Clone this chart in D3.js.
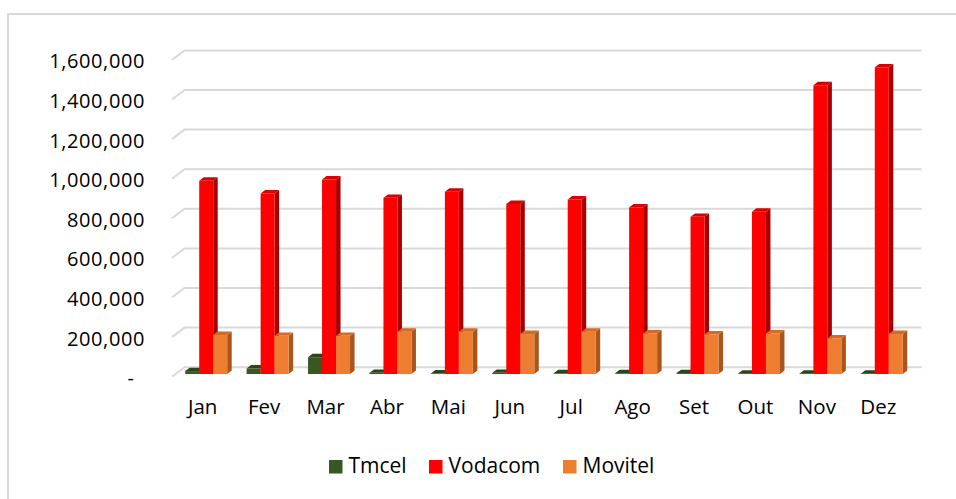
<!DOCTYPE html>
<html><head><meta charset="utf-8">
<script src="https://cdn.jsdelivr.net/npm/d3@7"></script>
<style>html,body{margin:0;padding:0;background:#fff;}svg{display:block;}</style>
</head><body>
<svg id="c" width="956" height="499"></svg>
<script>
const months = ["Jan","Fev","Mar","Abr","Mai","Jun","Jul","Ago","Set","Out","Nov","Dez"];
const seriesNames = ["Tmcel","Vodacom","Movitel"];
const tmcel   = [15000, 28000, 85000, 6000, 3000, 6000, 4000, 4000, 5000, 2000, 2000, 2000];
const vodacom = [976000, 912000, 983000, 890000, 921000, 859000, 882000, 842000, 794000, 820000, 1459000, 1549000];
const movitel = [197000, 193000, 193000, 214000, 214000, 202000, 214000, 205000, 200000, 205000, 180000, 202000];
const yTicks  = [0, 200000, 400000, 600000, 800000, 1000000, 1200000, 1400000, 1600000];

const seriesData = [tmcel, vodacom, movitel];
const faceColors = [
  {front:"#385723", top:"#2c461b", side:"#22380f"},
  {front:"#ff0000", top:"#d80000", side:"#a80000"},
  {front:"#ed7d31", top:"#d46a24", side:"#a9561d"}
];

const svg = d3.select("#c");
const floorX0 = 172, floorX1 = 909, floorY0 = 376.7;
const DX = 12.5, DY = -9.5;
const h = d3.scaleLinear().domain([0, 1600000]).range([0, 316.8]);
const x0 = d3.scaleBand().domain(months).range([floorX0, floorX1]).padding(0);
const groupW = 42;
const x1 = d3.scaleBand().domain(seriesNames).range([0, groupW]).padding(0);
const f0 = 0.28, f1 = 0.64;

function P(x, f, v) { return [x + f * DX, floorY0 + f * DY - h(v)]; }
const pathOf = pts => "M" + pts.map(p => p[0].toFixed(2) + "," + p[1].toFixed(2)).join("L") + "Z";

// chart borders
svg.append("line").attr("x1", 8).attr("y1", 14).attr("x2", 956).attr("y2", 14).attr("stroke", "#d9d9d9").attr("stroke-width", 2);
svg.append("line").attr("x1", 8).attr("y1", 13).attr("x2", 8).attr("y2", 499).attr("stroke", "#d9d9d9").attr("stroke-width", 2);

// gridlines
const grid = svg.append("g").attr("fill", "none").attr("stroke", "#d9d9d9").attr("stroke-width", 2);
yTicks.forEach(v => {
  const a = P(floorX0, 0, v), b = P(floorX0, 1, v), c = P(floorX1, 1, v);
  grid.append("path").attr("d", "M" + a + "L" + b + "L" + c);
});

// y axis labels
const fmt = d3.format(",");
svg.append("g").selectAll("text").data(yTicks).join("text")
  .attr("x", d => d === 0 ? 134 : 145)
  .attr("y", d => P(floorX0, 0, d)[1] + 8.5)
  .attr("text-anchor", "end")
  .attr("font-family", "'Open Sans', sans-serif")
  .attr("font-size", 20)
  .attr("letter-spacing", d => d === 0 ? 0 : 0.6)
  .attr("fill", "#000")
  .text(d => d === 0 ? "-" : fmt(d));

// bars
const step = x0.step();
const bars = svg.append("g");
months.forEach((m, i) => {
  seriesNames.forEach((s, j) => {
    const v = seriesData[j][i];
    const xl = x0(m) + (step - groupW) / 2 + x1(s);
    const w = x1.bandwidth();
    const A = P(xl, f0, 0), B = P(xl + w, f0, 0), C = P(xl + w, f0, v), D = P(xl, f0, v);
    const Cb = P(xl + w, f1, v), Db = P(xl, f1, v), Bb = P(xl + w, f1, 0);
    const col = faceColors[j];
    bars.append("path").attr("d", pathOf([B, C, Cb, Bb])).attr("fill", col.side);
    bars.append("path").attr("d", pathOf([D, C, Cb, Db])).attr("fill", col.top);
    bars.append("path").attr("d", pathOf([A, B, C, D])).attr("fill", col.front);
  });
});

// month labels
svg.append("g").selectAll("text").data(months).join("text")
  .attr("x", d => x0(d) + step / 2)
  .attr("y", 413.5)
  .attr("text-anchor", "middle")
  .attr("font-family", "'Open Sans', sans-serif")
  .attr("font-size", 20.5)
  .attr("fill", "#000")
  .text(d => d);

// legend
const legendX = [329, 429, 563];
const lg = svg.append("g");
seriesNames.forEach((s, j) => {
  lg.append("rect").attr("x", legendX[j]).attr("y", 460).attr("width", 13.5).attr("height", 13.5).attr("fill", faceColors[j].front);
  lg.append("text").attr("x", legendX[j] + 19.5).attr("y", 473.3)
    .attr("font-family", "'Open Sans', sans-serif").attr("font-size", 21).attr("fill", "#000").text(s);
});
</script>
</body></html>
